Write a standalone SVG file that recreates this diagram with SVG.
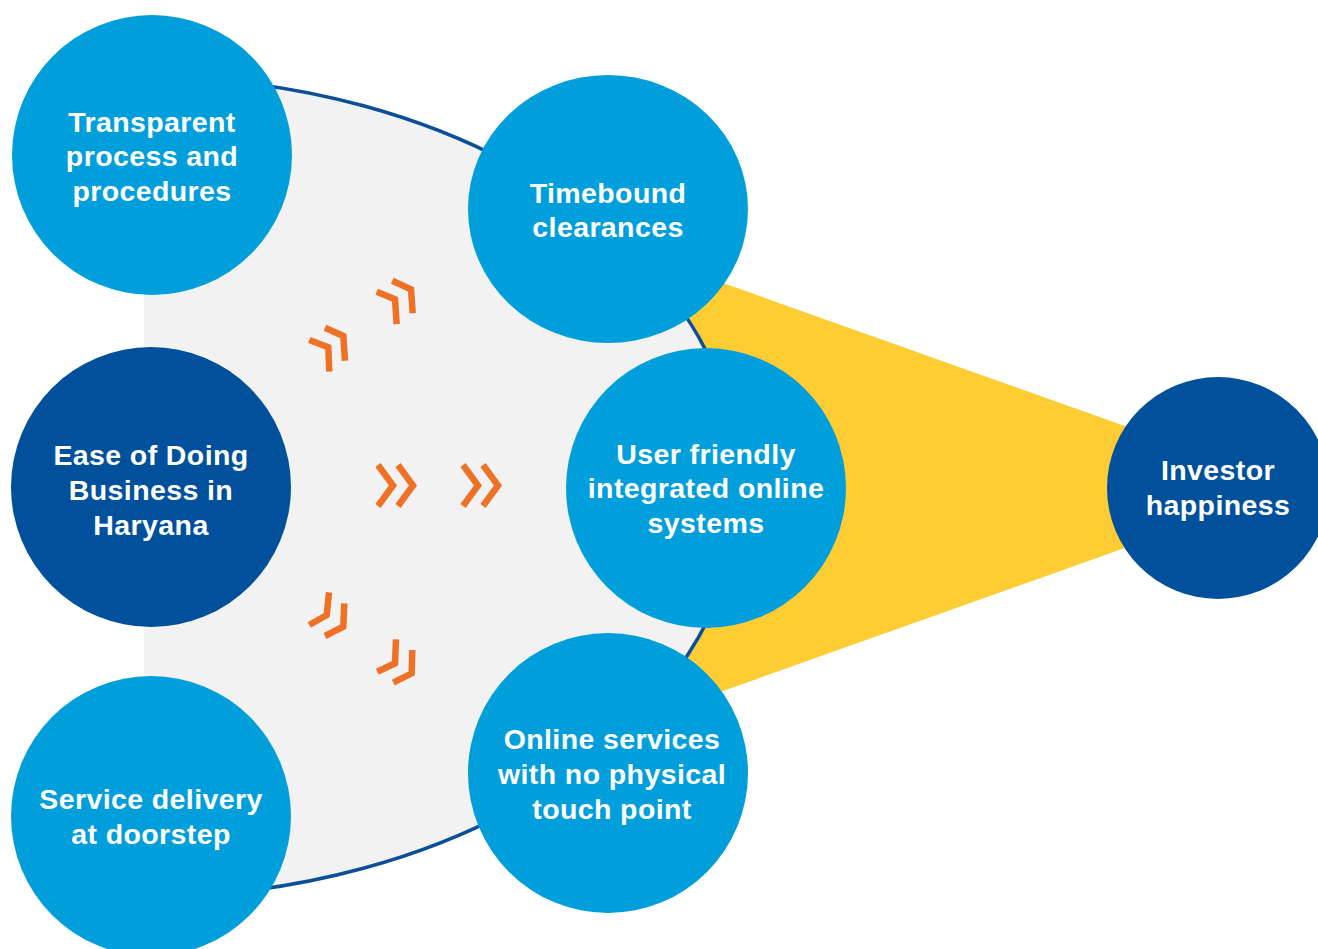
<svg xmlns="http://www.w3.org/2000/svg" width="1318" height="949" viewBox="0 0 1318 949">
<style>
.light{fill:#009fdb}
.dark{fill:#00509b}
.lbl{font-family:"Liberation Sans",Arial,sans-serif;font-weight:bold;font-size:28.5px;letter-spacing:0.4px;fill:#ffffff;text-anchor:middle}
.chev{fill:none;stroke:#ef7126;stroke-width:6.5;stroke-linejoin:miter;stroke-linecap:butt}
</style>
<defs>
<clipPath id="rightHalf"><rect x="144" y="0" width="1174" height="949"/></clipPath>
</defs>
<rect width="1318" height="949" fill="#ffffff"/>
<g id="background">
<polygon points="680,267.7 1296,487 680,706.3" fill="#fecd33"/>
<ellipse cx="144" cy="487" rx="596" ry="410" fill="#f2f2f2" stroke="#0b4f98" stroke-width="3.5" clip-path="url(#rightHalf)"/>
</g>
<g id="connectors">
<path class="chev" d="M378,465 L393,485.5 L378,506 M398,465 L413,485.5 L398,506"/>
<path class="chev" d="M463,465 L478,485.5 L463,506 M483,465 L498,485.5 L483,506"/>
<path class="chev" d="M309.3,340 L328.3,347.3 L329.3,371.7 M325,327.7 L343.3,336 L345,360.7"/>
<path class="chev" d="M376.7,291.7 L395,299.3 L396.7,324.3 M392.3,280.7 L411,289.3 L412.7,313.3"/>
<path class="chev" d="M329,592.3 L326.7,615 L309.3,625 M344.3,603.3 L343.3,626.7 L325,636"/>
<path class="chev" d="M396,639.3 L395,663.3 L377.3,671.7 M412.3,650 L411.7,673.3 L393.3,682.7"/>
</g>
<g id="n-transparent">
<circle class="light" cx="152" cy="155" r="140"/>
<text class="lbl"><tspan x="152" y="131.5">Transparent</tspan><tspan x="152" y="166">process and</tspan><tspan x="152" y="200.5">procedures</tspan></text>
</g>
<g id="n-ease">
<circle class="dark" cx="151" cy="487" r="140"/>
<text class="lbl"><tspan x="151" y="465">Ease of Doing</tspan><tspan x="151" y="500">Business in</tspan><tspan x="151" y="535">Haryana</tspan></text>
</g>
<g id="n-service">
<circle class="light" cx="151" cy="816" r="140"/>
<text class="lbl"><tspan x="151" y="809">Service delivery</tspan><tspan x="151" y="844">at doorstep</tspan></text>
</g>
<g id="n-timebound">
<ellipse class="light" cx="608" cy="209" rx="140" ry="134"/>
<text class="lbl"><tspan x="608" y="203">Timebound</tspan><tspan x="608" y="237">clearances</tspan></text>
</g>
<g id="n-userfriendly">
<circle class="light" cx="706" cy="488" r="140"/>
<text class="lbl"><tspan x="706" y="464">User friendly</tspan><tspan x="706" y="498">integrated online</tspan><tspan x="706" y="533">systems</tspan></text>
</g>
<g id="n-online">
<circle class="light" cx="608" cy="773" r="140"/>
<text class="lbl"><tspan x="612" y="748.5">Online services</tspan><tspan x="612" y="783.5">with no physical</tspan><tspan x="612" y="818.5">touch point</tspan></text>
</g>
<g id="n-investor">
<circle class="dark" cx="1218" cy="488" r="111"/>
<text class="lbl"><tspan x="1218" y="480">Investor</tspan><tspan x="1218" y="515">happiness</tspan></text>
</g>
</svg>
